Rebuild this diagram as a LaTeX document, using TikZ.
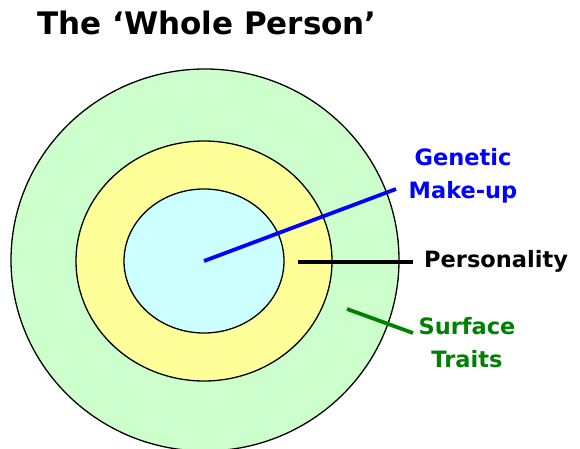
\documentclass[tikz,border=0pt]{standalone}
\usepackage{fontspec}
\setmainfont{DejaVu Sans}
\usetikzlibrary{shapes.geometric}
\definecolor{outerfill}{HTML}{CCFFCC}
\definecolor{midfill}{HTML}{FFFF99}
\definecolor{innerfill}{HTML}{CCFFFF}
\definecolor{gblue}{HTML}{0000FF}
\definecolor{sgreen}{HTML}{008000}
\tikzset{
  ring/.style={ellipse, draw=black, line width=1.3pt, inner sep=0pt},
  lab/.style={font=\bfseries\fontsize{22.5}{33}\selectfont, align=center, inner sep=0pt},
  conn/.style={line width=3.8pt}
}
\begin{document}
\begin{tikzpicture}[x=1pt,y=-1pt]
\useasboundingbox (0,0) rectangle (580,449);
\fill[white] (0,0) rectangle (580,449);
\node[ring, fill=outerfill, minimum width=388pt, minimum height=382pt] (outer) at (205,260) {};
\node[ring, fill=midfill, minimum width=256pt, minimum height=240pt] (mid) at (204,261) {};
\node[ring, fill=innerfill, minimum width=160pt, minimum height=144pt] (inner) at (204,261) {};
\node[anchor=base west, inner sep=0pt, font=\bfseries\fontsize{31}{36}\selectfont] (title) at (37,35) {The ‘Whole Person’};
\node[lab, text=gblue, anchor=base] (gen) at (463,198) {Genetic\\Make-up};
\node[lab, anchor=base west] (pers) at (424,267) {Personality};
\node[lab, text=sgreen, anchor=base] (surf) at (467,367) {Surface\\Traits};
\coordinate (gs) at (204,261);
\coordinate (ge) at (396,189);
\coordinate (ps) at (298,262);
\coordinate (pe) at (413,262);
\coordinate (ss) at (347,309);
\coordinate (se) at (413,333);
\draw[conn, gblue] (gs) -- (ge);
\draw[conn, black] (ps) -- (pe);
\draw[conn, sgreen] (ss) -- (se);
\end{tikzpicture}
\end{document}
